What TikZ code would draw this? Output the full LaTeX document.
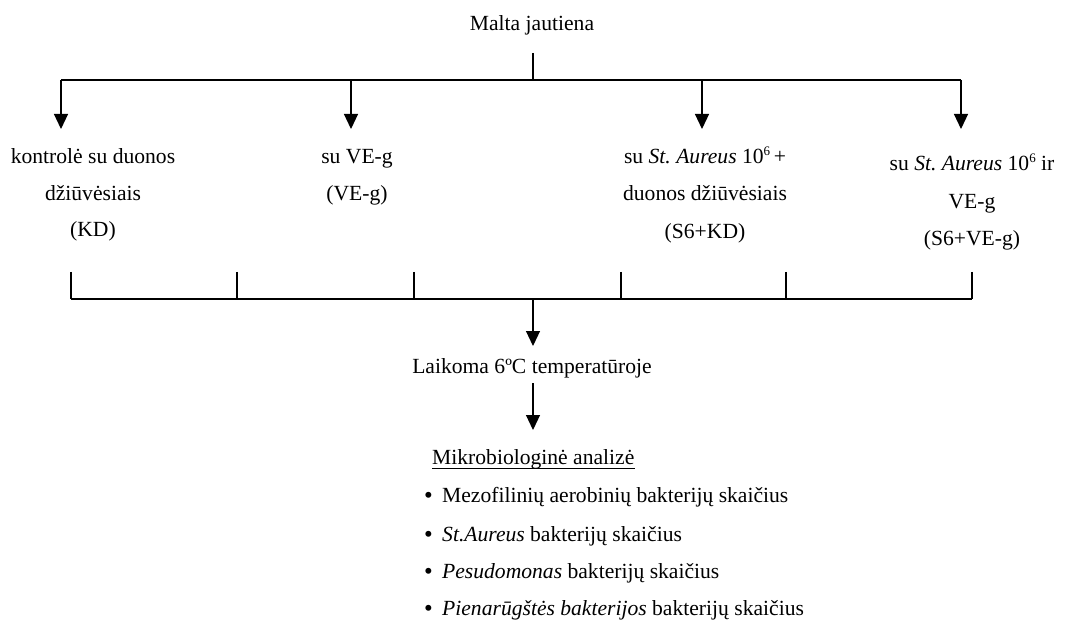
\documentclass[tikz,border=0pt]{standalone}
\usepackage{fontspec}
\setmainfont{Liberation Serif}
\usetikzlibrary{arrows.meta}
\frenchspacing
\newcommand{\supsix}{\raisebox{0.38em}{\fontsize{13}{13}\selectfont 6}}
\newcommand{\bul}{\makebox[18pt][l]{\raisebox{-0.08em}{\scalebox{1.15}{\textbullet}}}}
\tikzset{
  txt/.style={font=\fontsize{21.6}{25}\selectfont, inner sep=0pt, anchor=base},
  ln/.style={line width=1.2pt, black},
  arr/.style={line width=1.2pt, black, -{Triangle[width=14pt,length=15pt]}}
}
\begin{document}
\begin{tikzpicture}[x=1pt,y=-1pt]
\useasboundingbox (0,0) rectangle (1073,620);
% top
\node[txt] (malta) at (532,31) {Malta jautiena};
\coordinate (m0) at (533,53);
\coordinate (m1) at (533,80);
\coordinate (hl) at (61,80);
\coordinate (hr) at (961,80);
\draw[ln] (m0) -- (m1);
\draw[ln] (hl) -- (hr);
% arrow heads
\foreach \n/\x in {1/61,2/351,3/702,4/961}{
  \coordinate (s\n) at (\x,80);
  \coordinate (e\n) at (\x,129);
  \draw[arr] (s\n) -- (e\n);
}
% column labels
\node[txt] (c1a) at (93,164) {kontrolė su duonos};
\node[txt] (c1b) at (93,201) {džiūvėsiais};
\node[txt] (c1c) at (93,237) {(KD)};
\node[txt] (c2a) at (357,164) {su VE-g};
\node[txt] (c2b) at (357,201) {(VE-g)};
\node[txt] (c3a) at (705,164) {su \textit{St.\ Aureus} 10\supsix\,+};
\node[txt] (c3b) at (705,201) {duonos džiūvėsiais};
\node[txt] (c3c) at (705,239) {(S6+KD)};
\node[txt] (c4a) at (972,171) {su \textit{St.\ Aureus} 10\supsix{} ir};
\node[txt] (c4b) at (972,209) {VE-g};
\node[txt] (c4c) at (972,246) {(S6+VE-g)};
% bottom bracket
\coordinate (bl) at (71,299);
\coordinate (br) at (972,299);
\draw[ln] (bl) -- (br);
\foreach \n/\x in {1/71,2/237,3/414,4/621,5/786,6/972}{
  \coordinate (bt\n) at (\x,272);
  \coordinate (bb\n) at (\x,299);
  \draw[ln] (bt\n) -- (bb\n);
}
\coordinate (b0) at (533,299);
\node[txt] (laik) at (532,373) {Laikoma 6ºC temperatūroje};
\coordinate (b1) at (533,346);
\draw[arr] (b0) -- (b1);
\coordinate (l0) at (533,383);
\coordinate (l1) at (533,430);
\draw[arr] (l0) -- (l1);
% analysis
\node[txt, anchor=base west] (mk) at (432,464) {Mikrobiologinė analizė};
\draw[line width=0.9pt] ([yshift=-4pt]mk.base west) -- ([yshift=-4pt]mk.base east);
\node[txt, anchor=base west] (i1) at (424,502) {\bul Mezofilinių aerobinių bakterijų skaičius};
\node[txt, anchor=base west] (i2) at (424,541) {\bul\textit{St.Aureus} bakterijų skaičius};
\node[txt, anchor=base west] (i3) at (424,578) {\bul\textit{Pesudomonas} bakterijų skaičius};
\node[txt, anchor=base west] (i4) at (424,615) {\bul\textit{Pienarūgštės bakterijos} bakterijų skaičius};
\end{tikzpicture}
\end{document}
